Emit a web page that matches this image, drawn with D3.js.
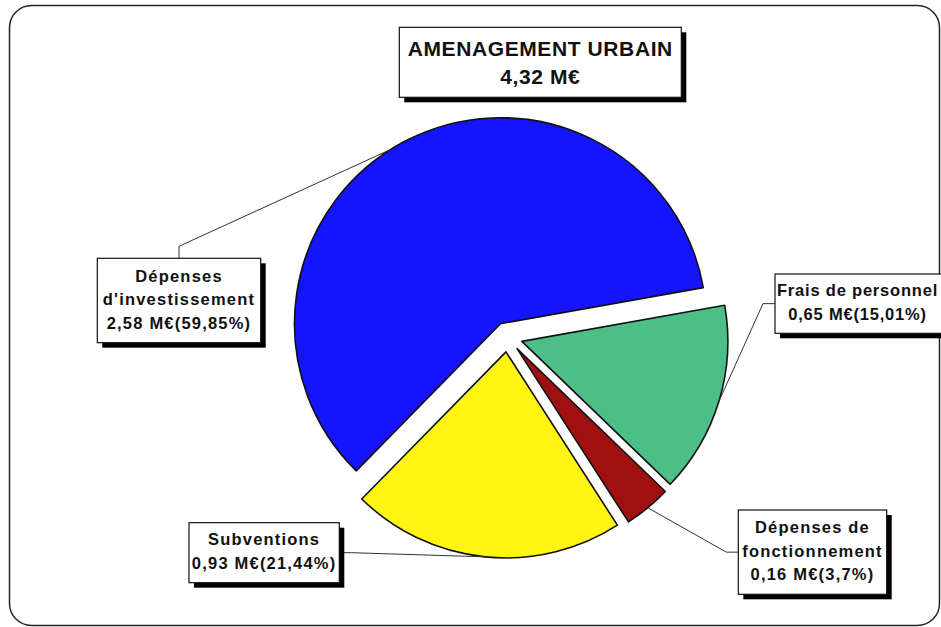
<!DOCTYPE html>
<html lang="fr">
<head>
<meta charset="utf-8">
<title>AMENAGEMENT URBAIN</title>
<script src="https://cdn.jsdelivr.net/npm/d3@7/dist/d3.min.js"></script>
<style>
  html, body { margin: 0; padding: 0; background: #fff; }
  svg { display: block; }
  text { font-family: "Liberation Sans", Arial, sans-serif; font-weight: bold; fill: #111; }
</style>
</head>
<body>
<svg id="chart" width="941" height="627"></svg>
<script>
// Budget lines (label lines), amounts in M€ and shares in %
const categoryLines = [
  ["Dépenses", "d'investissement"],
  ["Frais de personnel"],
  ["Dépenses de", "fonctionnement"],
  ["Subventions"]
];
const amounts = [2.58, 0.65, 0.16, 0.93];
const shares = [59.85, 15.01, 3.7, 21.44];
const title = "AMENAGEMENT URBAIN";

// Slice colours
const palette = ["#1414ff", "#4cbe87", "#a01010", "#fff510"];

const svg = d3.select("#chart");

// Rounded outer frame
svg.append("rect")
  .attr("x", 9.5).attr("y", 5.5)
  .attr("width", 930).attr("height", 620)
  .attr("rx", 22).attr("ry", 22)
  .attr("fill", "#fff").attr("stroke", "#222").attr("stroke-width", 1.5);

const fr = d3.formatLocale({ decimal: ",", thousands: " ", grouping: [3], currency: ["", " €"] });
const fmtAmount = fr.format(".2f");
const fmtShare = v => String(v).replace(".", ",");

// Pie geometry
const cx = 507.5, cy = 337, R = 206, explode = 15;
const startDeg = -135.56;
const pie = d3.pie().sort(null).value(d => d.share)
  .startAngle(startDeg * Math.PI / 180)
  .endAngle(startDeg * Math.PI / 180 + 2 * Math.PI);
const arc = d3.arc().innerRadius(0).outerRadius(R);

const data = shares.map((s, i) => ({ i, share: s, amount: amounts[i], lines: categoryLines[i] }));
const arcs = pie(data);

const offset = a => [explode * Math.sin(a), -explode * Math.cos(a)];

const slices = svg.append("g").attr("transform", `translate(${cx},${cy})`);
slices.selectAll("path")
  .data(arcs)
  .join("path")
  .attr("transform", d => {
    const m = (d.startAngle + d.endAngle) / 2;
    const [ox, oy] = offset(m);
    return `translate(${ox},${oy})`;
  })
  .attr("d", arc)
  .attr("fill", (d, i) => palette[i])
  .attr("stroke", "#111")
  .attr("stroke-width", 1.6)
  .attr("stroke-linejoin", "round");

// Label boxes: placement, side the leader attaches to, and where on the slice arc it lands
const boxes = [
  { x: 97.3, y: 258.3, w: 163.4, h: 84.4, side: "top", t: 0.48 },
  { x: 775, y: 274, w: 171, h: 59.3, side: "left", t: 0.5, textX: 857.5, spacing: 0.8 },
  { x: 738.3, y: 510, w: 148.4, h: 84.3, side: "left", t: 0.5 },
  { x: 189, y: 522.7, w: 150.3, h: 60, side: "right", t: 0.5 }
];

// Point on the (exploded) slice's outer arc
function arcPoint(d, t) {
  const m = (d.startAngle + d.endAngle) / 2;
  const [ox, oy] = offset(m);
  const a = d.startAngle + t * (d.endAngle - d.startAngle);
  return [cx + ox + R * Math.sin(a), cy + oy - R * Math.cos(a)];
}

const leaders = svg.append("g")
  .attr("fill", "none").attr("stroke", "#333").attr("stroke-width", 1);

arcs.forEach((d, i) => {
  const b = boxes[i];
  const p = arcPoint(d, b.t);
  let end, knee;
  if (b.side === "top") {
    end = [b.x + b.w / 2, b.y];
    knee = [end[0], end[1] - 12];
  } else if (b.side === "left") {
    end = [b.x, b.y + b.h / 2];
    knee = [end[0] - 12, end[1]];
  } else {
    end = [b.x + b.w, b.y + b.h / 2];
    knee = [end[0] + 12, end[1]];
  }
  leaders.append("path").attr("d", d3.line()([p, knee, end]));
});

// Boxed text with a solid drop shadow
function drawBox(b, lines, size, step, spacing, capShift) {
  const g = svg.append("g");
  g.append("rect")
    .attr("x", b.x + 5).attr("y", b.y + 5).attr("width", b.w).attr("height", b.h)
    .attr("fill", "#000");
  g.append("rect")
    .attr("x", b.x).attr("y", b.y).attr("width", b.w).attr("height", b.h)
    .attr("fill", "#fff").attr("stroke", "#111").attr("stroke-width", 1.2);
  const mid = b.y + b.h / 2;
  g.selectAll("text")
    .data(lines)
    .join("text")
    .attr("x", b.textX ?? (b.x + b.w / 2))
    .attr("y", (l, k) => mid + (k - (lines.length - 1) / 2) * step + capShift)
    .attr("text-anchor", "middle")
    .attr("font-size", size)
    .attr("letter-spacing", b.spacing ?? spacing)
    .text(l => l);
}

arcs.forEach((d, i) => {
  const lines = d.data.lines.concat([`${fmtAmount(d.data.amount)} M€(${fmtShare(d.data.share)}%)`]);
  drawBox(boxes[i], lines, 16.5, 23.5, 1.2, 4.5);
});

// Title with the total
const total = d3.sum(amounts);
drawBox({ x: 399.3, y: 27.3, w: 282, h: 70 }, [title, `${fmtAmount(total)} M€`], 21, 28.3, 0.6, 8);
</script>
</body>
</html>
